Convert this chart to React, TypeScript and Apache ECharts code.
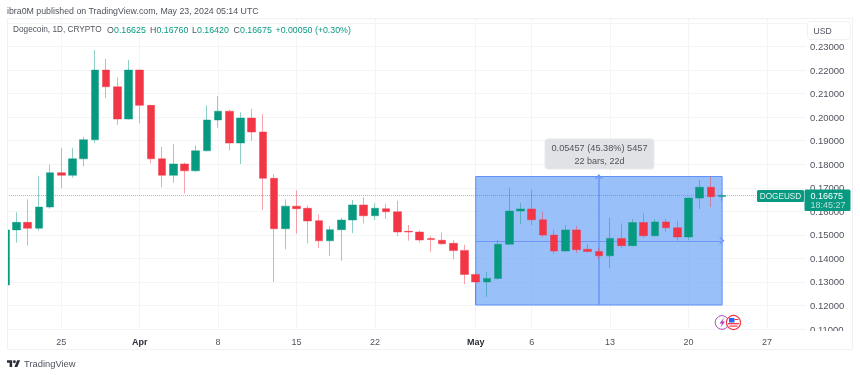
import React, { useEffect, useRef } from "react";
import * as echarts from "echarts";

const opens = [0.1287,0.1521,0.1553,0.1528,0.1618,0.1764,0.1753,0.1823,0.1904,0.22,0.2129,0.1992,0.22,0.205,0.1823,0.1753,0.1801,0.1772,0.1857,0.1988,0.2025,0.189,0.1996,0.1937,0.174,0.1526,0.1622,0.1613,0.156,0.1475,0.1522,0.1563,0.1627,0.1581,0.1611,0.1598,0.1515,0.1512,0.1484,0.1477,0.1464,0.1434,0.1332,0.13,0.1315,0.146,0.1601,0.161,0.1564,0.1499,0.1431,0.1521,0.1439,0.1429,0.1411,0.1485,0.1454,0.1552,0.1496,0.1555,0.153,0.1491,0.1656,0.1702,0.16625];
const closes = [0.1521,0.1553,0.1528,0.1618,0.1764,0.1753,0.1823,0.1904,0.22,0.2129,0.1992,0.22,0.205,0.1823,0.1753,0.1801,0.1772,0.1857,0.1988,0.2025,0.189,0.1996,0.1937,0.174,0.1526,0.1622,0.1611,0.1559,0.1475,0.1522,0.1563,0.1627,0.1581,0.1613,0.1598,0.1512,0.1512,0.1478,0.148,0.1462,0.1433,0.1332,0.13,0.1315,0.146,0.1601,0.161,0.1564,0.1499,0.1431,0.1521,0.1437,0.1429,0.1411,0.1485,0.1454,0.1552,0.1496,0.1555,0.153,0.1491,0.1656,0.1702,0.1662,0.16675];
const lows = [0.1285,0.1467,0.1454,0.1518,0.1611,0.1699,0.1743,0.179,0.1891,0.208,0.1967,0.199,0.1974,0.1804,0.1702,0.1721,0.1676,0.1767,0.1855,0.1955,0.1859,0.1801,0.1899,0.1605,0.13,0.1439,0.1504,0.1464,0.1444,0.141,0.139,0.1507,0.1549,0.1563,0.1568,0.1495,0.1475,0.1467,0.1428,0.1457,0.1396,0.1291,0.1202,0.1237,0.131,0.1458,0.1546,0.1542,0.1492,0.142,0.1429,0.1423,0.1426,0.1396,0.1358,0.1445,0.1452,0.1488,0.1494,0.1513,0.1475,0.1477,0.1609,0.1618,0.1642];
const highs = [0.1525,0.1596,0.1651,0.175,0.1798,0.1868,0.187,0.1916,0.2285,0.2248,0.2169,0.2243,0.2202,0.2052,0.1874,0.1885,0.1807,0.188,0.205,0.209,0.2033,0.2021,0.2035,0.2012,0.1758,0.1651,0.169,0.1625,0.1587,0.1538,0.1572,0.1648,0.1659,0.1634,0.1631,0.1645,0.1542,0.1518,0.1495,0.1509,0.1478,0.1458,0.1335,0.1342,0.1478,0.17,0.1635,0.169,0.1598,0.1521,0.1541,0.1538,0.1461,0.1444,0.1572,0.1549,0.1567,0.1591,0.1566,0.1568,0.156,0.1658,0.1733,0.1747,0.1676];

const xTickDays = [5, 12, 19, 26, 33, 42, 47, 54, 61, 68];
const xTickLabels = ["25", "Apr", "8", "15", "22", "May", "6", "13", "20", "27"];
const boldLabels = ["Apr", "May"];
const priceTicks = [0.11,0.12,0.13,0.14,0.15,0.16,0.17,0.18,0.19,0.2,0.21,0.22,0.23,0.24];

const rangeStartDay = 42;
const rangeMidDay = 53;
const rangeEndDay = 64;
const rangeLow = 0.1202;
const rangeHigh = 0.17477;
const rangeMid = 0.14748;
const lastPrice = 0.16675;

const UP = "#089981";
const DOWN = "#F23645";
const FONT = "'Liberation Sans'";
const TEXT = "#50535e";
const CHEVRON = "path://M0,10 L5,0 L10,10 L8,10 L5,4 L2,10 Z";

const legendParts: [string, number, string, number][] = [
  ["Dogecoin, 1D, CRYPTO", 13, TEXT, 8.25],
  ["O", 107, TEXT, 8.8], ["0.16625", 114, UP, 8.8],
  ["H", 150, TEXT, 8.8], ["0.16760", 156.5, UP, 8.8],
  ["L", 192, TEXT, 8.8], ["0.16420", 197, UP, 8.8],
  ["C", 233.5, TEXT, 8.8], ["0.16675", 240, UP, 8.8],
  ["+0.00050 (+0.30%)", 275.5, UP, 8.8],
];

echarts.graphic.registerShape(
  "tvLogo",
  echarts.graphic.extendPath(
    "M14 4H0v7h7v11h7V4zM28 22h-8l7.5-18h8L28 22zM24 8a4 4 0 1 1-8 0a4 4 0 0 1 8 0z",
    {}
  )
);

export default function App() {
  const ref = useRef<HTMLDivElement>(null);
  useEffect(() => {
    document.body.style.margin = "0";
    const chart = echarts.init(ref.current!, null, { renderer: "svg" });
    const txt = (text: string, x: number, y: number, fill: string, size: number, extra: any = {}) => ({
      type: "text", x, y, z: 40,
      style: { text, fill, font: `${extra.weight || 400} ${size}px ${FONT}`, textAlign: extra.align || "left", textVerticalAlign: "middle", opacity: extra.opacity ?? 1 },
    });
    chart.setOption({
      animation: false,
      backgroundColor: "#fff",
      textStyle: { fontFamily: FONT },
      grid: { left: 7, right: 54, top: 19, bottom: 45, containLabel: false },
      xAxis: {
        type: "value",
        min: 0.152,
        max: 71.49,
        axisLine: { show: false },
        axisTick: { show: false, customValues: xTickDays },
        splitLine: { show: true, lineStyle: { color: "#f3f4f6" } },
        axisLabel: {
          customValues: xTickDays,
          margin: 7,
          fontSize: 9,
          color: TEXT,
          fontFamily: FONT,
          formatter: (v: number) => {
            const l = xTickLabels[xTickDays.indexOf(v)] ?? "";
            return boldLabels.includes(l) ? `{b|${l}}` : l;
          },
          rich: { b: { fontWeight: 700, fontSize: 9, color: "#2a2e39", fontFamily: FONT } },
        },
      },
      yAxis: {
        type: "value",
        position: "right",
        min: 0.10958,
        max: 0.24169,
        axisLine: { show: false },
        axisTick: { show: false, customValues: priceTicks },
        splitLine: { show: true, lineStyle: { color: "#f3f4f6" } },
        axisLabel: {
          customValues: priceTicks,
          margin: 4,
          fontSize: 9.5,
          color: TEXT,
          fontFamily: FONT,
          formatter: (v: number) => (v > 0.235 ? "" : v.toFixed(5)),
        },
      },
      series: [
        {
          type: "line",
          data: [],
          silent: true,
          markArea: {
            silent: true,
            itemStyle: { color: "rgba(110,165,245,0.7)", borderColor: "#5e8ffb", borderWidth: 1 },
            data: [[{ coord: [rangeStartDay, rangeHigh] }, { coord: [rangeEndDay, rangeLow] }]],
          },
          markLine: {
            silent: true,
            z: 1,
            precision: 6,
            label: { show: false },
            symbol: ["none", CHEVRON],
            symbolSize: [8, 5],
            lineStyle: { color: "#6d96f8", width: 1, type: "solid", opacity: 1 },
            data: [
              [
                { coord: [rangeMidDay, rangeLow], lineStyle: { color: "#6d96f8", width: 1.6, type: "solid" } },
                { coord: [rangeMidDay, rangeHigh] },
              ],
              [{ coord: [rangeStartDay, rangeMid] }, { coord: [rangeEndDay, rangeMid] }],
              [
                { coord: [0.152, lastPrice], symbol: "none", lineStyle: { color: "rgba(8,153,129,0.5)", type: "dotted", width: 1 } },
                { coord: [71.49, lastPrice], symbol: "none" },
              ],
            ],
          },
        },
        {
          type: "candlestick",
          z: 3,
          barWidth: 8,
          clip: true,
          encode: { x: 0, y: [1, 2, 3, 4] },
          data: opens.map((o, i) => [i, o, closes[i], lows[i], highs[i]]),
          itemStyle: {
            color: UP,
            color0: DOWN,
            borderColor: "rgba(8,153,129,0.45)",
            borderColor0: "rgba(242,54,69,0.45)",
            borderWidth: 1,
          },
        },
      ],
      graphic: [
        { type: "rect", z: 30, shape: { x: 0, y: 18, width: 7, height: 332 }, style: { fill: "#fff" } },
        { type: "rect", z: 30, shape: { x: 807.5, y: 331, width: 44, height: 17 }, style: { fill: "#fff" } },
        { type: "rect", z: 31, shape: { x: 7.5, y: 18.5, width: 845, height: 331 }, style: { fill: "none", stroke: "#f0f1f3", lineWidth: 1 } },
        { type: "rect", z: 32, shape: { x: 807.5, y: 21.5, width: 43, height: 18, r: 3 }, style: { fill: "#fff", stroke: "#f0f1f3", lineWidth: 1 } },
        txt("USD", 813.5, 30.5, TEXT, 8.6),
        txt("ibra0M published on TradingView.com, May 23, 2024 05:14 UTC", 7, 11, TEXT, 8.8),
        ...legendParts.map(([t, x, c, s]) => txt(t, x, 29.5, c, s)),

        { type: "rect", z: 35, shape: { x: 545, y: 139, width: 109, height: 30, r: 3 }, style: { fill: "#e0e2e6", stroke: "#e8e9ec", lineWidth: 1 } },
        txt("0.05457 (45.38%) 5457", 599.5, 147.5, TEXT, 9.2, { align: "center" }),
        txt("22 bars, 22d", 599.5, 161, TEXT, 9, { align: "center" }),

        { type: "rect", z: 36, shape: { x: 757, y: 190, width: 47, height: 12, r: 1.5 }, style: { fill: UP } },
        txt("DOGEUSD", 780.5, 196, "#e4f4f0", 8.2, { align: "center" }),
        { type: "rect", z: 36, shape: { x: 804.5, y: 189.5, width: 46, height: 21.5, r: 1.5 }, style: { fill: UP } },
        txt("0.16675", 810.5, 195.5, "#ffffff", 9),
        txt("18:45:27", 810.5, 205, "#b5e0d7", 9),

        { type: "circle", z: 37, shape: { cx: 722, cy: 322.5, r: 6.8 }, style: { fill: "#fff", stroke: "#ab47bc", lineWidth: 1 } },
        { type: "polygon", z: 37, shape: { points: [[724, 317.5], [719.5, 323.5], [722, 323.5], [720.5, 327.5], [725, 321.5], [722.5, 321.5]] }, style: { fill: "#ab47bc" } },
        { type: "circle", z: 38, shape: { cx: 733.5, cy: 322.5, r: 7 }, style: { fill: "#fff", stroke: "#f23645", lineWidth: 1.2 } },
        { type: "rect", z: 38, shape: { x: 729, y: 318, width: 5.5, height: 4.5 }, style: { fill: "#2962ff" } },
        { type: "rect", z: 38, shape: { x: 734.5, y: 319, width: 4, height: 1 }, style: { fill: "#f23645" } },
        { type: "rect", z: 38, shape: { x: 728, y: 323, width: 11, height: 1.3 }, style: { fill: "#f23645" } },
        { type: "rect", z: 38, shape: { x: 729.5, y: 325.5, width: 8, height: 1.2 }, style: { fill: "#f23645" } },

        { type: "tvLogo", z: 40, x: 7, y: 358.8, scaleX: 0.37, scaleY: 0.37, style: { fill: "#2a2e39" } },
        txt("TradingView", 24, 363.5, TEXT, 9.4),
      ],
    });
    return () => chart.dispose();
  }, []);
  return <div ref={ref} style={{ width: 860, height: 375, filter: "blur(0.3px)" }} />;
}
